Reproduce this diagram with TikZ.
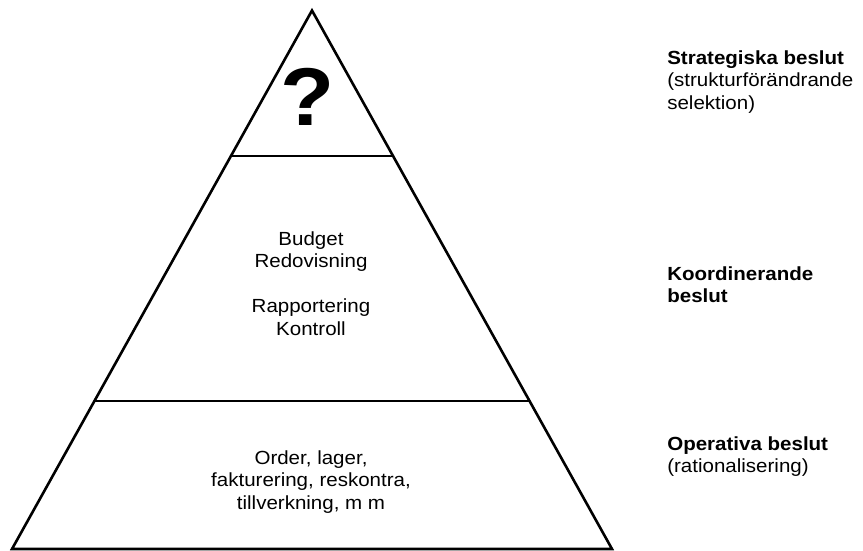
\documentclass[tikz,border=0pt]{standalone}
\usepackage{fontspec}
\setmainfont{Liberation Sans}[FakeStretch=1.08]
\usetikzlibrary{positioning}

\begin{document}
\begin{tikzpicture} [x=1pt, y=-1pt, line width=2.6pt, font=\fontsize{19}{22.5}\selectfont,
	level/.style={inner sep=0pt, anchor=north, align=center},
	decision/.style={inner sep=0pt, anchor=north west, align=left}]

\useasboundingbox (0,0) rectangle (863,551);

% pyramid
\coordinate (apex) at (312,10.5);
\coordinate (base_left) at (12,549);
\coordinate (base_right) at (612,549);
\draw (apex) -- (base_left) -- (base_right) -- cycle;
\draw (231,156) -- (393,156);
\draw (95,401) -- (529,401);

\node[font=\fontsize{82}{82}\selectfont\bfseries] 	(question) 	at (308,97) 	{?};
\node[level] 	(budget) 	at (311,230) 	{Budget \\ Redovisning};
\node[level] 	(control) 	[below=25pt of budget] 	{Rapportering \\ Kontroll};
\node[level] 	(order) 	at (311,449) 	{Order, lager, \\ fakturering, reskontra, \\ tillverkning, m m};

\node[decision] 	(strategic) 	at (666,49) 	{\textbf{Strategiska beslut} \\ (strukturförändrande \\ selektion)};
\node[decision] 	(coordinating) 	at (666,265) 	{\textbf{Koordinerande} \\ \textbf{beslut}};
\node[decision] 	(operative) 	at (666,435) 	{\textbf{Operativa beslut} \\ (rationalisering)};

\end{tikzpicture}
\end{document}
